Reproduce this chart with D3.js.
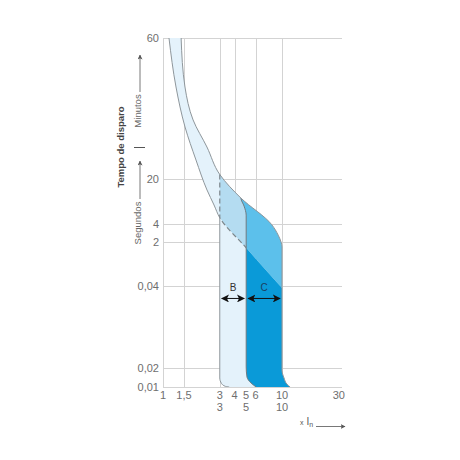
<!DOCTYPE html>
<html>
<head>
<meta charset="utf-8">
<script src="https://cdn.jsdelivr.net/npm/d3@7"></script>
<style>
  html, body { margin: 0; padding: 0; background: #fff; }
  svg { display: block; }
  text { font-family: "Liberation Sans", Arial, Helvetica, sans-serif; }
</style>
</head>
<body>
<svg id="chart" width="460" height="460"></svg>
<script>
// ---------------- data ----------------
const xTickValues = [1, 1.5, 3, 4, 5, 6, 10, 30];
const xTickLabels = ["1", "1,5", "3", "4", "5", "6", "10", "30"];
const xTick2Values = [3, 5, 10];
const xTick2Labels = ["3", "5", "10"];
const xGridValues = [1.5, 3, 4, 6, 10];

const yTickValues = [3600, 20, 4, 2, 0.04, 0.02, 0.01];   // seconds (60 min at top)
const yTickLabels = ["60", "20", "4", "2", "0,04", "0,02", "0,01"];

// thermal band upper limit (continues as the C magnetic limit at 10 In)
const upperCurve = [[1.42, 3600], [1.53, 592], [1.79, 176], [2.34, 65], [3, 23.6], [4.52, 10.1],
                    [8.2, 3.9], [9.3, 2.6], [9.85, 1.9], [10, 1.3], [10, 0.0185], [10.4, 0.0139], [11, 0.0111], [11.7, 0.01]];
// thermal band lower limit
const lowerCurve = [[1.123, 3600], [1.286, 592], [1.531, 136], [1.893, 40.3], [2.343, 13.5], [2.683, 7.9],
                    [3, 5.0], [5, 1.2], [7.06, 0.198], [10, 0.0393]];
// B zone: right edge (= C zone left edge) and left edge
const bRightEdge = [[4.52, 3600], [4.52, 10.1], [4.8, 7.6], [5, 5.5], [5, 0.0202], [5.08, 0.0144], [5.49, 0.0116], [6.05, 0.01]];
const bLeftEdge = [[3, 3600], [3, 0.0139], [3.1, 0.0114], [3.36, 0.0102], [3.6, 0.01]];
const cZoneStart = 4.4;
const zoneLabels = ["B", "C"];
const zoneRanges = [[3, 5], [5, 10]];
const zoneLabelTime = 0.04;
const zoneArrowTime = 0.036;

// ---------------- layout ----------------
const svg = d3.select("#chart");
const plotRight = 342;
const x = d3.scaleLog().domain([1, 10]).range([163, 282]);
const yPos = [38, 179, 224, 242, 286, 368, 387];
const yLin = d3.scaleLinear().domain(yTickValues.map(Math.log10)).range(yPos);
const Y = t => yLin(Math.log10(t));
const xMaxV = x.invert(plotRight);
const tTop = yTickValues[0], tBot = yTickValues[yTickValues.length - 1];

const col = { vlight: "#e4f2fb", mlight: "#b4dcf1", mblue: "#5cc0eb", dark: "#0a9ad8",
              edge: "#8e969b", grid: "#d3d3d3", txt: "#6e6e6e" };

const line = d3.line().x(d => x(d[0])).y(d => Y(d[1])).curve(d3.curveMonotoneY);
const asL = p => "L" + p.slice(1);

const uPath = line(upperCurve);
const lPath = line(lowerCurve);
const belowU = uPath + `L${x(1)},${Y(tBot)}L${x(1)},${Y(tTop)}Z`;
const belowL = lPath + `L${x(xMaxV)},${Y(lowerCurve[lowerCurve.length - 1][1])}L${x(xMaxV)},${Y(tBot) + 3}` +
               `L${x(1) - 3},${Y(tBot) + 3}L${x(1) - 3},${Y(tTop)}Z`;
const bPath = line(bRightEdge) + asL(line(bLeftEdge.slice().reverse())) + "Z";

const defs = svg.append("defs");
defs.append("clipPath").attr("id", "cU").append("path").attr("d", belowU);
defs.append("clipPath").attr("id", "cL").append("path").attr("d", belowL);
const m = defs.append("mask").attr("id", "notL").attr("maskUnits", "userSpaceOnUse")
  .attr("x", 0).attr("y", 0).attr("width", 460).attr("height", 460);
m.append("rect").attr("width", 460).attr("height", 460).attr("fill", "#fff");
m.append("path").attr("d", belowL).attr("fill", "#000");
defs.append("clipPath").attr("id", "cLeft3").append("rect")
  .attr("x", 0).attr("y", 0).attr("width", x(3)).attr("height", 460);
defs.append("clipPath").attr("id", "c35").append("rect")
  .attr("x", x(3)).attr("y", 0).attr("width", x(5) - x(3)).attr("height", 460);

function arrowMarker(id, color, size) {
  defs.append("marker").attr("id", id).attr("viewBox", "0 0 10 10")
    .attr("refX", 9).attr("refY", 5).attr("markerUnits", "userSpaceOnUse")
    .attr("markerWidth", size).attr("markerHeight", size).attr("orient", "auto-start-reverse")
    .append("path").attr("d", "M0,0 L10,5 L0,10 L2.5,5 Z").attr("fill", color);
}
arrowMarker("arrBlack", "#111", 8);
arrowMarker("arrGray", "#555", 5);

// ---------------- grid ----------------
const px = v => Math.round(v) + 0.5;
const grid = svg.append("g").attr("stroke", col.grid).attr("stroke-width", 1);
grid.selectAll("line.h").data(yTickValues.slice(0, -1)).join("line")
  .attr("x1", x(1)).attr("x2", plotRight).attr("y1", d => px(Y(d))).attr("y2", d => px(Y(d)));
grid.selectAll("line.v").data(xGridValues).join("line")
  .attr("x1", d => px(x(d))).attr("x2", d => px(x(d))).attr("y1", Y(tTop)).attr("y2", Y(tBot));
grid.append("line").attr("x1", px(x(1))).attr("x2", px(x(1))).attr("y1", Y(tTop)).attr("y2", Y(tBot));

// ---------------- zones ----------------
const gz = svg.append("g").attr("clip-path", "url(#cU)");
const band = gz.append("g").attr("mask", "url(#notL)");
band.append("rect").attr("x", 0).attr("y", 0).attr("width", 460).attr("height", 460).attr("fill", col.vlight);
band.append("rect").attr("x", x(cZoneStart)).attr("y", Y(tTop)).attr("width", x(xMaxV) - x(cZoneStart))
  .attr("height", Y(tBot) - Y(tTop)).attr("fill", col.mblue);
band.append("path").attr("d", bPath).attr("fill", col.mlight);

const below = gz.append("g").attr("clip-path", "url(#cL)");
below.append("rect").attr("x", x(cZoneStart)).attr("y", Y(tTop)).attr("width", x(xMaxV) - x(cZoneStart))
  .attr("height", Y(tBot) - Y(tTop) + 2).attr("fill", col.dark);
below.append("path").attr("d", bPath).attr("fill", col.vlight);
below.append("path").attr("d", line(bLeftEdge)).attr("fill", "none").attr("stroke", col.edge).attr("stroke-width", 1);

gz.append("path").attr("d", line(bRightEdge)).attr("fill", "none").attr("stroke", "#6f7a80").attr("stroke-width", 1);

// ---------------- edges ----------------
svg.append("path").attr("d", uPath).attr("fill", "none").attr("stroke", col.edge).attr("stroke-width", 1);
svg.append("path").attr("d", lPath).attr("fill", "none").attr("stroke", col.edge).attr("stroke-width", 1)
  .attr("clip-path", "url(#cLeft3)");
svg.append("path").attr("d", lPath).attr("fill", "none").attr("stroke", "#7d868b").attr("stroke-width", 1.2)
  .attr("stroke-dasharray", "5,3").attr("clip-path", "url(#c35)");
const u3 = upperCurve.find(d => d[0] === 3), l3 = lowerCurve.find(d => d[0] === 3);
svg.append("line").attr("x1", x(3)).attr("x2", x(3)).attr("y1", Y(u3[1])).attr("y2", Y(l3[1]))
  .attr("stroke", "#7d868b").attr("stroke-width", 1.2).attr("stroke-dasharray", "5,3");

// bottom axis line
svg.append("line").attr("x1", x(1)).attr("x2", plotRight).attr("y1", px(Y(tBot))).attr("y2", px(Y(tBot)))
  .attr("stroke", col.grid).attr("stroke-width", 1);

// ---------------- zone labels & arrows ----------------
zoneLabels.forEach((lab, i) => {
  const [a, b] = zoneRanges[i];
  const cx = x(Math.sqrt(a * b));
  svg.append("text").attr("x", cx).attr("y", Y(zoneLabelTime) + 1).attr("text-anchor", "middle")
    .attr("dominant-baseline", "central").attr("font-size", 10)
    .attr("fill", i === 0 ? "#333" : "#1b3f63").text(lab);
  svg.append("line").attr("x1", x(a) + 2).attr("x2", x(b) - 2)
    .attr("y1", Y(zoneArrowTime)).attr("y2", Y(zoneArrowTime))
    .attr("stroke", "#111").attr("stroke-width", 1)
    .attr("marker-start", "url(#arrBlack)").attr("marker-end", "url(#arrBlack)");
});

// ---------------- tick labels ----------------
svg.append("g").selectAll("text").data(yTickValues).join("text")
  .attr("x", 159).attr("y", d => Y(d)).attr("text-anchor", "end").attr("dominant-baseline", "central")
  .attr("font-size", 11).attr("fill", col.txt).text((d, i) => yTickLabels[i]);
svg.append("g").selectAll("text").data(xTickValues).join("text")
  .attr("x", d => x(d)).attr("y", 399).attr("text-anchor", "middle")
  .attr("font-size", 11).attr("fill", col.txt).text((d, i) => xTickLabels[i]);
svg.append("g").selectAll("text").data(xTick2Values).join("text")
  .attr("x", d => x(d)).attr("y", 411).attr("text-anchor", "middle")
  .attr("font-size", 11).attr("fill", col.txt).text((d, i) => xTick2Labels[i]);

// x unit
const xu = svg.append("text").attr("x", 300).attr("y", 425).attr("fill", "#555");
xu.append("tspan").attr("font-size", 7).text("x");
xu.append("tspan").attr("dx", 3).attr("font-size", 10).text("I");
xu.append("tspan").attr("font-size", 7).attr("dy", 2).text("n");
svg.append("line").attr("x1", 316).attr("x2", 345).attr("y1", 426.5).attr("y2", 426.5)
  .attr("stroke", "#555").attr("stroke-width", 0.8).attr("marker-end", "url(#arrGray)");

// y titles
svg.append("text").attr("transform", "translate(120,147) rotate(-90)").attr("text-anchor", "middle")
  .attr("dominant-baseline", "central").attr("font-size", 9.5).attr("font-weight", "bold")
  .attr("fill", "#444").text("Tempo de disparo");
svg.append("text").attr("transform", "translate(137,111) rotate(-90)").attr("text-anchor", "middle")
  .attr("dominant-baseline", "central").attr("font-size", 9.5).attr("fill", "#666").text("Minutos");
svg.append("text").attr("transform", "translate(137,223) rotate(-90)").attr("text-anchor", "middle")
  .attr("dominant-baseline", "central").attr("font-size", 9.5).attr("fill", "#666").text("Segundos");
svg.append("line").attr("x1", 140).attr("x2", 140).attr("y1", 92).attr("y2", 55)
  .attr("stroke", "#555").attr("stroke-width", 0.8).attr("marker-end", "url(#arrGray)");
svg.append("line").attr("x1", 140).attr("x2", 140).attr("y1", 199).attr("y2", 161)
  .attr("stroke", "#555").attr("stroke-width", 0.8).attr("marker-end", "url(#arrGray)");
svg.append("line").attr("x1", 134).attr("x2", 145).attr("y1", 147.5).attr("y2", 147.5)
  .attr("stroke", "#555").attr("stroke-width", 1);
</script>
</body>
</html>
